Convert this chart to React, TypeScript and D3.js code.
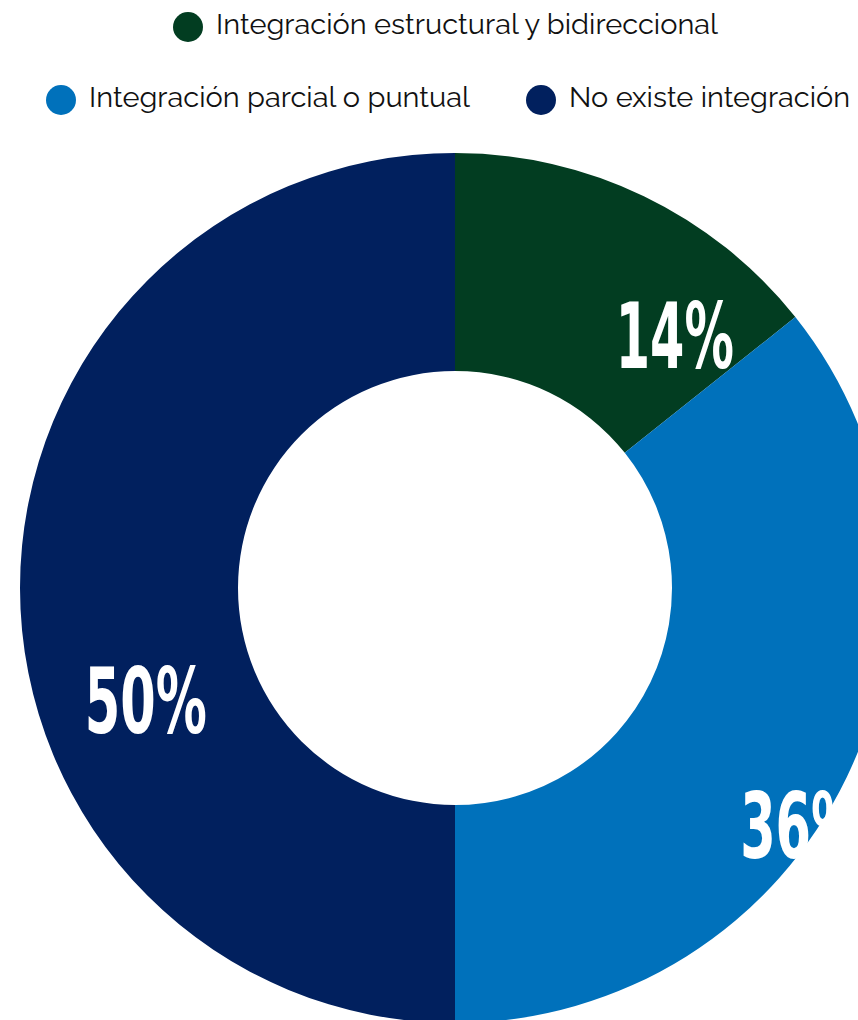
import React from "react";
import * as d3 from "d3";

const categories = [
  "Integración estructural y bidireccional",
  "Integración parcial o puntual",
  "No existe integración",
];
const values = [14.3, 35.7, 50];
const labels = ["14%", "36%", "50%"];
const colors = ["#023d21", "#0071bb", "#01205e"];

// label placement (angle in degrees clockwise from top, radius in px)
const labelAngles = [41, 124.5, 250];
const labelRadii = [335, 420, 329];
const labelWidths = [118, 122, 122];

const W = 858;
const H = 1020;
const cx = 455;
const cy = 588;
const outerR = 435;
const innerR = 217;

export default function App() {
  const pie = d3
    .pie<number>()
    .sort(null)
    .value((d) => d)
    .startAngle(0)
    .endAngle(2 * Math.PI);
  const arcs = pie(values);
  const arc = d3.arc<d3.PieArcDatum<number>>().innerRadius(innerR).outerRadius(outerR);

  const legendFont = "Raleway, Lato, 'Open Sans', sans-serif";
  const legend = [
    { i: 0, cx: 188, cy: 27, tx: 216, ty: 34, len: 502 },
    { i: 1, cx: 61, cy: 100, tx: 89, ty: 107, len: 381 },
    { i: 2, cx: 541, cy: 100, tx: 569, ty: 107, len: 281 },
  ];

  return (
    <svg
      width={W}
      height={H}
      style={{ position: "absolute", left: 0, top: 0, overflow: "hidden", background: "#fff" }}
    >
      <g transform={`translate(${cx},${cy})`}>
        {arcs.map((a, i) => (
          <path key={i} d={arc(a) || ""} fill={colors[i]} />
        ))}
        {arcs.map((a, i) => {
          const ang = (labelAngles[i] * Math.PI) / 180;
          const x = labelRadii[i] * Math.sin(ang);
          const y = -labelRadii[i] * Math.cos(ang);
          return (
            <text
              key={"l" + i}
              x={x}
              y={y + 32.5}
              textAnchor="middle"
              fill="#fff"
              fontFamily="'Liberation Sans Narrow', 'DejaVu Sans Condensed', sans-serif"
              fontWeight="bold"
              fontSize={91}
              textLength={labelWidths[i]}
              lengthAdjust="spacingAndGlyphs"
            >
              {labels[i]}
            </text>
          );
        })}
      </g>
      {legend.map((l) => (
        <g key={"lg" + l.i}>
          <circle cx={l.cx} cy={l.cy} r={15} fill={colors[l.i]} />
          <text
            x={l.tx}
            y={l.ty}
            fontFamily={legendFont}
            fontSize={28}
            fill="#111"
            textLength={l.len}
            lengthAdjust="spacingAndGlyphs"
          >
            {categories[l.i]}
          </text>
        </g>
      ))}
    </svg>
  );
}
